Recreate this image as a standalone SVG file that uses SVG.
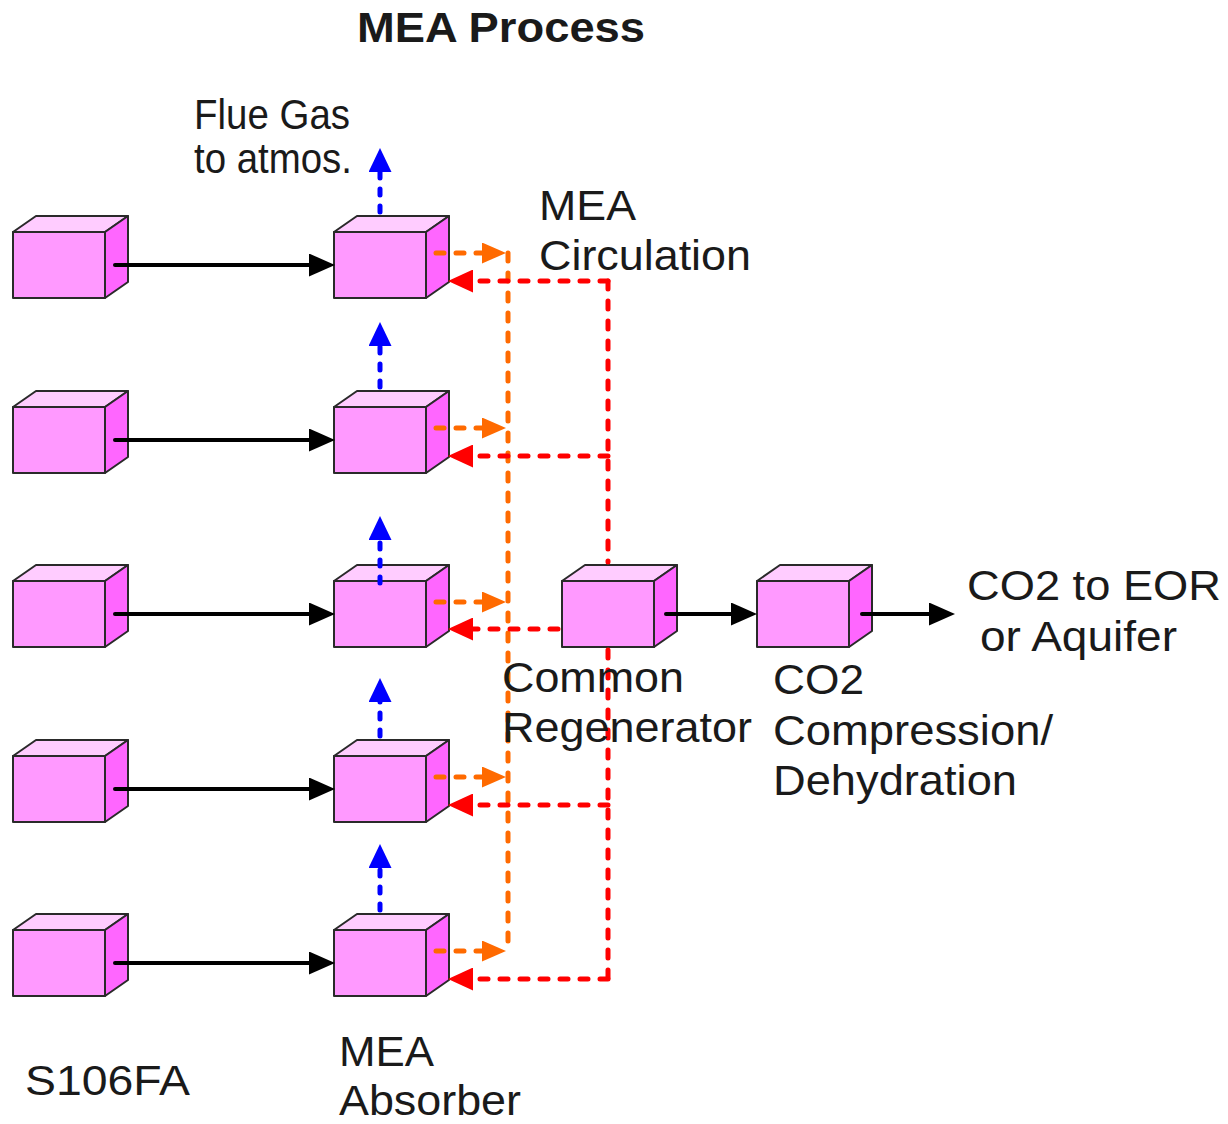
<svg xmlns="http://www.w3.org/2000/svg" width="1228" height="1124" viewBox="0 0 1228 1124">
<style>
.front{fill:#FF99FF;stroke:#2a2a2a;stroke-width:2;stroke-linejoin:round}
.top{fill:#FFCCFF;stroke:#2a2a2a;stroke-width:2;stroke-linejoin:round}
.side{fill:#FF66FF;stroke:#2a2a2a;stroke-width:2;stroke-linejoin:round}
.t{font-family:"Liberation Sans",Arial,sans-serif;font-size:42px;fill:#1a1a1a}
.blk{stroke:#000;stroke-width:4;fill:none;stroke-linecap:round;marker-end:url(#ab)}
.org{stroke:#FF6A00;stroke-width:5;fill:none;stroke-dasharray:8 12;stroke-linecap:round}
.red{stroke:#FF0000;stroke-width:5;fill:none;stroke-dasharray:8 12;stroke-linecap:round}
.blu{stroke:#0000FF;stroke-width:5;fill:none;stroke-dasharray:6 11;stroke-linecap:round;marker-end:url(#abl)}
</style>
<defs>
<symbol id="cube" overflow="visible">
<polygon class="top" points="0,0 23,-16 115,-16 92,0"/>
<polygon class="side" points="92,0 115,-16 115,50 92,66"/>
<rect class="front" x="0" y="0" width="92" height="66"/>
</symbol>
<marker id="ab" markerUnits="userSpaceOnUse" viewBox="0 0 26 23" refX="4" refY="11.5" markerWidth="26" markerHeight="23" orient="auto"><path d="M0,0 L26,11.5 L0,23 z" fill="#000"/></marker>
<marker id="ao" markerUnits="userSpaceOnUse" viewBox="0 0 24 21" refX="4" refY="10.5" markerWidth="24" markerHeight="21" orient="auto"><path d="M0,0 L24,10.5 L0,21 z" fill="#FF6A00"/></marker>
<marker id="ar" markerUnits="userSpaceOnUse" viewBox="0 0 25 23" refX="4" refY="11.5" markerWidth="25" markerHeight="23" orient="auto"><path d="M0,0 L25,11.5 L0,23 z" fill="#FF0000"/></marker>
<marker id="abl" markerUnits="userSpaceOnUse" viewBox="0 0 24 23" refX="4" refY="11.5" markerWidth="24" markerHeight="23" orient="auto"><path d="M0,0 L24,11.5 L0,23 z" fill="#0000FF"/></marker>
</defs>
<rect width="1228" height="1124" fill="#fff"/>

<g id="s106fa-1"><use href="#cube" x="13" y="232"/></g>
<g id="s106fa-2"><use href="#cube" x="13" y="407"/></g>
<g id="s106fa-3"><use href="#cube" x="13" y="581"/></g>
<g id="s106fa-4"><use href="#cube" x="13" y="756"/></g>
<g id="s106fa-5"><use href="#cube" x="13" y="930"/></g>
<g id="absorber-1"><use href="#cube" x="334" y="232"/></g>
<g id="absorber-2"><use href="#cube" x="334" y="407"/></g>
<g id="absorber-3"><use href="#cube" x="334" y="581"/></g>
<g id="absorber-4"><use href="#cube" x="334" y="756"/></g>
<g id="absorber-5"><use href="#cube" x="334" y="930"/></g>
<g id="regenerator"><use href="#cube" x="562" y="581"/></g>
<g id="compression"><use href="#cube" x="757" y="581"/></g>

<g id="connectors">
<!-- vertical manifold lines -->
<path class="org" d="M508,253 V950"/>
<path class="red" d="M608,281 V562 M608,650 V978"/>
<!-- black arrows -->
<path class="blk" d="M115,265 H313"/>
<path class="blk" d="M115,440 H313"/>
<path class="blk" d="M115,614 H313"/>
<path class="blk" d="M115,789 H313"/>
<path class="blk" d="M115,963 H313"/>
<path class="blk" d="M666,614 H735"/>
<path class="blk" d="M862,614 H933"/>
<!-- orange -->
<path class="org" d="M436,253 H486" marker-end="url(#ao)"/>
<path class="org" d="M436,428 H486" marker-end="url(#ao)"/>
<path class="org" d="M436,602 H486" marker-end="url(#ao)"/>
<path class="org" d="M436,777 H486" marker-end="url(#ao)"/>
<path class="org" d="M436,951 H486" marker-end="url(#ao)"/>
<!-- red -->
<path class="red" d="M608,281 H469" marker-end="url(#ar)"/>
<path class="red" d="M608,456 H469" marker-end="url(#ar)"/>
<path class="red" d="M558,629 H469" marker-end="url(#ar)"/>
<path class="red" d="M608,805 H469" marker-end="url(#ar)"/>
<path class="red" d="M608,979 H469" marker-end="url(#ar)"/>
<!-- blue -->
<path class="blu" d="M380,212 V168"/>
<path class="blu" d="M380,387 V342"/>
<path class="blu" d="M380,583 V536"/>
<path class="blu" d="M380,736 V698"/>
<path class="blu" d="M380,910 V864"/>
</g>

<g id="labels">
<text class="t" x="357" y="42" font-weight="bold" font-size="40" textLength="288" lengthAdjust="spacingAndGlyphs">MEA Process</text>
<text class="t" x="194" y="129" font-size="34" textLength="156" lengthAdjust="spacingAndGlyphs">Flue Gas</text>
<text class="t" x="194" y="173" font-size="34" textLength="158" lengthAdjust="spacingAndGlyphs">to atmos.</text>
<text class="t" x="539" y="220" textLength="97" lengthAdjust="spacingAndGlyphs">MEA</text>
<text class="t" x="539" y="270" textLength="212" lengthAdjust="spacingAndGlyphs">Circulation</text>
<text class="t" x="967" y="600" textLength="254" lengthAdjust="spacingAndGlyphs">CO2 to EOR</text>
<text class="t" x="980" y="651" textLength="197" lengthAdjust="spacingAndGlyphs">or Aquifer</text>
<text class="t" x="502" y="692" textLength="182" lengthAdjust="spacingAndGlyphs">Common</text>
<text class="t" x="502" y="742" textLength="250" lengthAdjust="spacingAndGlyphs">Regenerator</text>
<text class="t" x="773" y="694" textLength="91" lengthAdjust="spacingAndGlyphs">CO2</text>
<text class="t" x="773" y="745" textLength="280" lengthAdjust="spacingAndGlyphs">Compression/</text>
<text class="t" x="773" y="795" textLength="244" lengthAdjust="spacingAndGlyphs">Dehydration</text>
<text class="t" x="25" y="1095" textLength="165" lengthAdjust="spacingAndGlyphs">S106FA</text>
<text class="t" x="339" y="1066" textLength="95" lengthAdjust="spacingAndGlyphs">MEA</text>
<text class="t" x="339" y="1115" textLength="182" lengthAdjust="spacingAndGlyphs">Absorber</text>
</g>
</svg>
